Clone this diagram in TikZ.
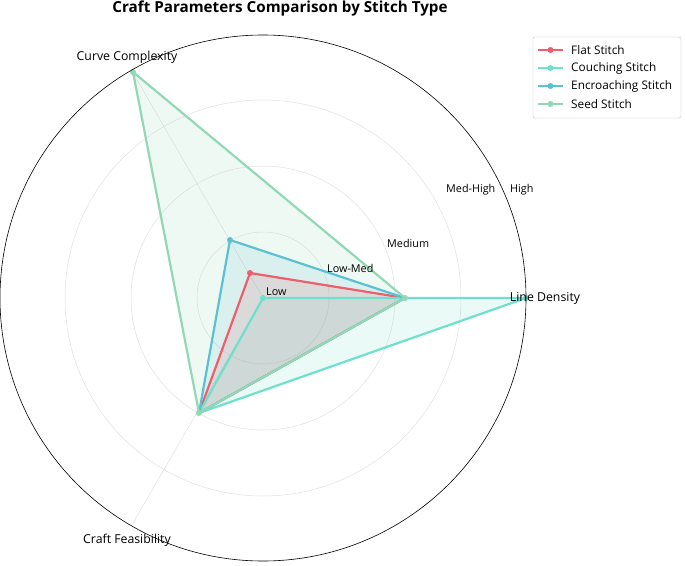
\documentclass[tikz,border=0pt]{standalone}
\usepackage{fontspec}
\setmainfont{Open Sans}
\begin{document}
\begin{tikzpicture}[x=1pt,y=-1pt,
  lbl/.style={font=\fontsize{12.3}{14}\selectfont, inner sep=0pt},
  tick/.style={font=\fontsize{10.8}{12}\selectfont, inner sep=0pt},
  grid/.style={draw=black!12, line width=0.5pt},
  ser/.style={line width=2.2pt, line join=round},
  dot/.style={circle, inner sep=0pt, minimum size=6pt}]
\definecolor{cflat}{HTML}{EC5F6B}
\definecolor{ccouch}{HTML}{6EE0CC}
\definecolor{cenc}{HTML}{5BC0D2}
\definecolor{cseed}{HTML}{92D8B4}
\useasboundingbox (0,0) rectangle (685,565);
\coordinate (O) at (263,298);
\foreach \r in {66,132,198} \draw[grid] (O) circle[radius=\r];
\draw[grid] (O) -- ++(0:263);
\draw[grid] (O) -- ++(-120:263);
\draw[grid] (O) -- ++(120:263);
% points
\coordinate (ld) at (405,298);
\coordinate (ldc) at (526,298);
\coordinate (cf) at (199,413);
\coordinate (ccf) at (250,273);
\coordinate (cce) at (230,240);
\coordinate (ccs) at (133,72);
% fills
\fill[cseed, opacity=0.15] (ld) -- (ccs) -- (cf) -- cycle;
\fill[ccouch, opacity=0.15] (ldc) -- (O) -- (cf) -- cycle;
\fill[cenc, opacity=0.15] (ld) -- (cce) -- (cf) -- cycle;
\fill[cflat, opacity=0.15] (ld) -- (ccf) -- (cf) -- cycle;
% lines
\draw[ser, cflat] (ld) -- (ccf) -- (cf) -- cycle;
\draw[ser, ccouch] (ldc) -- (O) -- (cf) -- cycle;
\draw[ser, cenc] (ld) -- (cce) -- (cf) -- cycle;
\draw[ser, cseed] (ld) -- (ccs) -- (cf) -- cycle;
\node[dot, fill=cflat] at (ccf) {};
\node[dot, fill=cenc] at (cce) {};
\node[dot, fill=ccouch] at (O) {};
\node[dot, fill=ccouch] at (ldc) {};
\node[dot, fill=cseed] at (ld) {};
\node[dot, fill=cseed] at (ccs) {};
\node[dot, fill=cseed] at (cf) {};
\draw[black, line width=0.6pt] (O) circle[radius=263];
% tick labels
\node[tick, anchor=west] (t0) at (266,292) {Low};
\node[tick, anchor=west] (t1) at (327,268) {Low-Med};
\node[tick, anchor=west] (t2) at (387,243) {Medium};
\node[tick, anchor=west] (t3) at (446,190) {Med-High};
\node[tick, anchor=west] (t4) at (510,190) {High};
% axis labels
\node[lbl] (a1) at (545,298) {Line Density};
\node[lbl] (a2) at (127,57) {Curve Complexity};
\node[lbl] (a3) at (127,540) {Craft Feasibility};
% title
\node[font=\fontsize{15.2}{17}\selectfont\bfseries, inner sep=0pt] (title) at (280,9) {Craft Parameters Comparison by Stitch Type};
% legend
\draw[black!25, fill=white, rounded corners=2pt] (533,37) rectangle (681,118);
\foreach \y/\c/\t [count=\i] in {50/cflat/Flat Stitch,68/ccouch/Couching Stitch,86/cenc/Encroaching Stitch,104/cseed/Seed Stitch}{
  \draw[\c, line width=2.2pt] (538,\y) -- (563,\y);
  \node[dot, fill=\c] (m\i) at (550.5,\y) {};
  \node[lbl, anchor=west, font=\fontsize{11.8}{13}\selectfont] (l\i) at (571,\y) {\t};
}
\end{tikzpicture}
\end{document}
